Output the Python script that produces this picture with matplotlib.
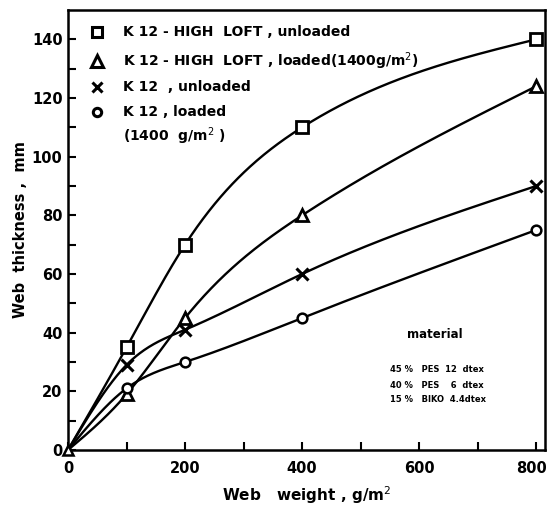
import numpy as np
import matplotlib
matplotlib.use("Agg")
import matplotlib.pyplot as plt
import matplotlib.transforms as mtransforms

# ---- data ----
weight = [0, 100, 200, 400, 800]
hl_unloaded = [0, 35, 70, 110, 140]
hl_loaded = [0, 19, 45, 80, 124]
k12_unloaded = [0, 29, 41, 60, 90]
k12_loaded = [0, 21, 30, 45, 75]

x_ticks = [0, 200, 400, 600, 800]
y_ticks = [0, 20, 40, 60, 80, 100, 120, 140]

legend_labels = [
    "K 12 - HIGH  LOFT , unloaded",
    "K 12 - HIGH  LOFT , loaded(1400g/m$^2$)",
    "K 12  , unloaded",
    "K 12 , loaded",
]
legend_extra = "(1400  g/m$^2$ )"
material_title = "material"
material_lines = ["45 %   PES  12  dtex", "40 %   PES    6  dtex", "15 %   BIKO  4.4dtex"]


def natural_spline(x, y, xs):
    x = np.asarray(x, float)
    y = np.asarray(y, float)
    n = len(x)
    h = np.diff(x)
    A = np.zeros((n, n))
    b = np.zeros(n)
    A[0, 0] = 1
    A[-1, -1] = 1
    for i in range(1, n - 1):
        A[i, i - 1] = h[i - 1]
        A[i, i] = 2 * (h[i - 1] + h[i])
        A[i, i + 1] = h[i]
        b[i] = 6 * ((y[i + 1] - y[i]) / h[i] - (y[i] - y[i - 1]) / h[i - 1])
    M = np.linalg.solve(A, b)
    ys = np.empty_like(xs)
    for j, xv in enumerate(xs):
        k = min(np.searchsorted(x, xv, side="right") - 1, n - 2)
        a = x[k + 1] - xv
        c = xv - x[k]
        ys[j] = (M[k] * a**3 / (6 * h[k]) + M[k + 1] * c**3 / (6 * h[k])
                 + (y[k] / h[k] - M[k] * h[k] / 6) * a
                 + (y[k + 1] / h[k] - M[k + 1] * h[k] / 6) * c)
    return ys


plt.rcParams['font.family'] = ['DejaVu Sans']
fig = plt.figure(figsize=(5.48, 5.05), dpi=100)
ax = fig.add_axes([68 / 548, 1 - 450 / 505, (545 - 68) / 548, 440 / 505])

series = [
    (hl_unloaded, dict(marker='s', ms=8, mfc='white', mec='black', mew=2)),
    (hl_loaded, dict(marker='^', ms=9, mfc='white', mec='black', mew=2)),
    (k12_unloaded, dict(marker='x', ms=8, mec='black', mew=2.2)),
    (k12_loaded, dict(marker='o', ms=7, mfc='white', mec='black', mew=1.8)),
]

xs = np.linspace(0, 800, 400)
for vals, style in series:
    ax.plot(xs, natural_spline(weight, vals, xs), color='black', lw=1.7, zorder=2)
    ax.plot(weight[1:], vals[1:], linestyle='none', zorder=3, **style)
ax.plot([0], [0], marker='^', ms=7, mfc='white', mec='black', mew=1.8, zorder=4, clip_on=False)

ax.set_xlim(0, 815)
ax.set_ylim(0, 150)
ax.set_xticks(x_ticks)
ax.set_xticks([100, 300, 500, 700], minor=True)
ax.set_yticks(y_ticks)
ax.set_yticks([10, 30, 50, 70, 90, 110, 130], minor=True)
ax.tick_params(axis='both', which='both', direction='in', length=6, width=1.5,
               labelsize=10.5)
ax.tick_params(axis='x', pad=8)
ax.tick_params(axis='y', pad=4)
for lab in ax.get_xticklabels() + ax.get_yticklabels():
    lab.set_fontweight('bold')
last = ax.get_xticklabels()[-1]
last.set_transform(last.get_transform() + mtransforms.ScaledTranslation(-5 / 100, 0, fig.dpi_scale_trans))
for sp in ax.spines.values():
    sp.set_linewidth(1.8)

ax.set_xlabel("Web   weight , g/m$^2$", fontsize=11, fontweight='bold', labelpad=6)
ax.set_ylabel("Web  thickness ,  mm", fontsize=10.5, fontweight='bold', labelpad=3)

# legend block
sym_x = (97 - 68) / 477
txt_x = (123 - 68) / 477
rows = [32, 61, 87, 112]
markers = [('s', 7), ('^', 8), ('x', 7), ('o', 6)]
for (mk, ms), lab, r in zip(markers, legend_labels, rows):
    yf = (450 - r) / 440
    ax.plot([sym_x], [yf], transform=ax.transAxes, marker=mk, ms=ms, mfc='white',
            mec='black', mew=2.2, linestyle='none', clip_on=False)
    ax.text(txt_x, yf, lab, transform=ax.transAxes, fontsize=10, fontweight='bold',
            va='center', ha='left')
ax.text(txt_x, (450 - 136) / 440, legend_extra, transform=ax.transAxes, fontsize=10,
        fontweight='bold', va='center', ha='left')

# material block
ax.text((435 - 68) / 477, (450 - 335) / 440, material_title, transform=ax.transAxes,
        fontsize=8.5, fontweight='bold', ha='center', va='center')
for i, ln in enumerate(material_lines):
    ax.text((390 - 68) / 477, (450 - (370 + 15 * i)) / 440, ln, transform=ax.transAxes,
            fontsize=6, fontweight='bold', ha='left', va='center')

fig.savefig("out.png", dpi=100)
